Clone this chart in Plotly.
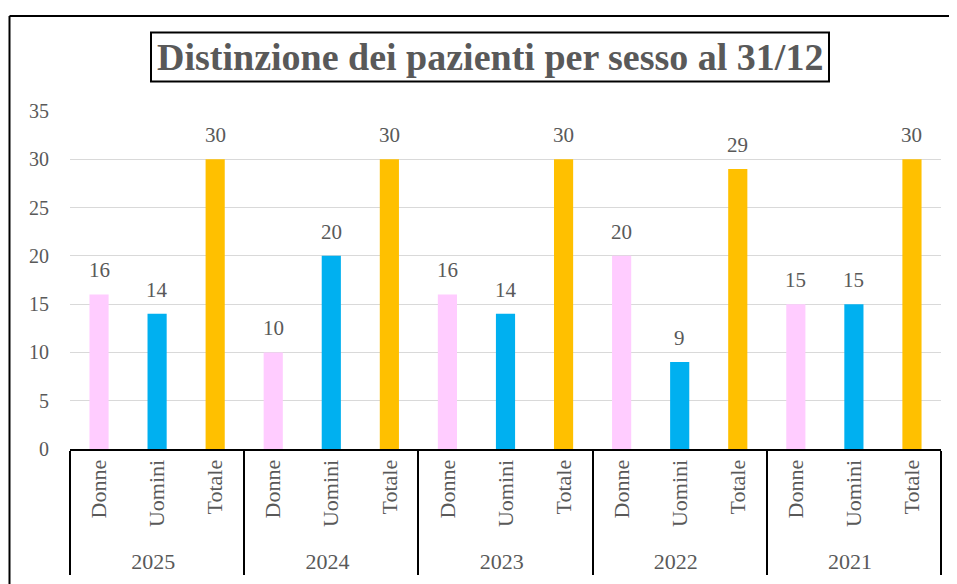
import plotly.graph_objects as go

years = ["2025", "2024", "2023", "2022", "2021"]
categories = ["Donne", "Uomini", "Totale"]
donne = [16, 10, 16, 20, 15]
uomini = [14, 20, 14, 9, 15]
totale = [30, 30, 30, 29, 30]
colors = {"Donne": "#FFCCFF", "Uomini": "#00B0F0", "Totale": "#FFC000"}
y_ticks = [0, 5, 10, 15, 20, 25, 30, 35]
title_text = "Distinzione dei pazienti per sesso al 31/12"

FONT = "Liberation Serif"
TXT = "#595959"

OFF = 8  # page body margin
W, H = 957 - OFF, 584 - OFF
L, R, T, B = 70 - OFF, 16, 111 - OFF, 135
pw, ph = W - L - R, H - T - B

def px_x(x):
    return (x - OFF - L) / pw

def px_y(y):
    return (H - B - (y - OFF)) / ph

series = {"Donne": donne, "Uomini": uomini, "Totale": totale}

fig = go.Figure()
annotations = []
for cat in categories:
    vals = series[cat]
    fig.add_trace(go.Bar(
        x=[years, [cat] * len(years)],
        y=vals,
        name=cat,
        marker=dict(color=colors[cat], line=dict(width=0)),
        width=0.33,
        showlegend=False,
        hoverinfo="skip",
    ))
    for yr, v in zip(years, vals):
        annotations.append(dict(
            x=[yr, cat], y=v, xref="x", yref="y", text=str(v),
            showarrow=False, yanchor="bottom", yshift=10,
            font=dict(family=FONT, size=21, color=TXT),
        ))

annotations.append(dict(
    x=px_x(490), y=px_y(57), xref="paper", yref="paper",
    text="<b>" + title_text + "</b>", showarrow=False,
    xanchor="center", yanchor="middle",
    font=dict(family=FONT, size=38, color=TXT),
))

fig.update_layout(
    width=W, height=H,
    margin=dict(l=L, r=R, t=T, b=B),
    paper_bgcolor="white", plot_bgcolor="white",
    barmode="overlay",
    annotations=annotations,
    font=dict(family=FONT, color=TXT, size=20),
    shapes=[
        dict(type="line", xref="paper", yref="paper",
             x0=px_x(9.5), x1=px_x(970), y0=px_y(16), y1=px_y(16),
             line=dict(color="#000000", width=2)),
        dict(type="line", xref="paper", yref="paper",
             x0=px_x(9.5), x1=px_x(9.5), y0=px_y(16), y1=px_y(600),
             line=dict(color="#000000", width=2)),
        dict(type="rect", xref="paper", yref="paper",
             x0=px_x(151), x1=px_x(829), y0=px_y(32.5), y1=px_y(81.5),
             line=dict(color="#000000", width=2), fillcolor="rgba(0,0,0,0)",
             layer="below"),
    ],
)
fig.update_yaxes(
    range=[0, 35], tickvals=y_ticks, showgrid=True,
    gridcolor="#D9D9D9", gridwidth=1.3, zeroline=False, showline=False,
    ticks="", ticklabelstandoff=20,
    tickfont=dict(family=FONT, size=20, color=TXT),
)
fig.update_xaxes(
    type="multicategory", tickangle=-90,
    showline=True, linecolor="#000000", linewidth=2,
    showdividers=True, dividercolor="#000000", dividerwidth=2,
    ticks="", showgrid=False,
    tickfont=dict(family=FONT, size=22, color=TXT),
)

fig.write_html("out.html")
